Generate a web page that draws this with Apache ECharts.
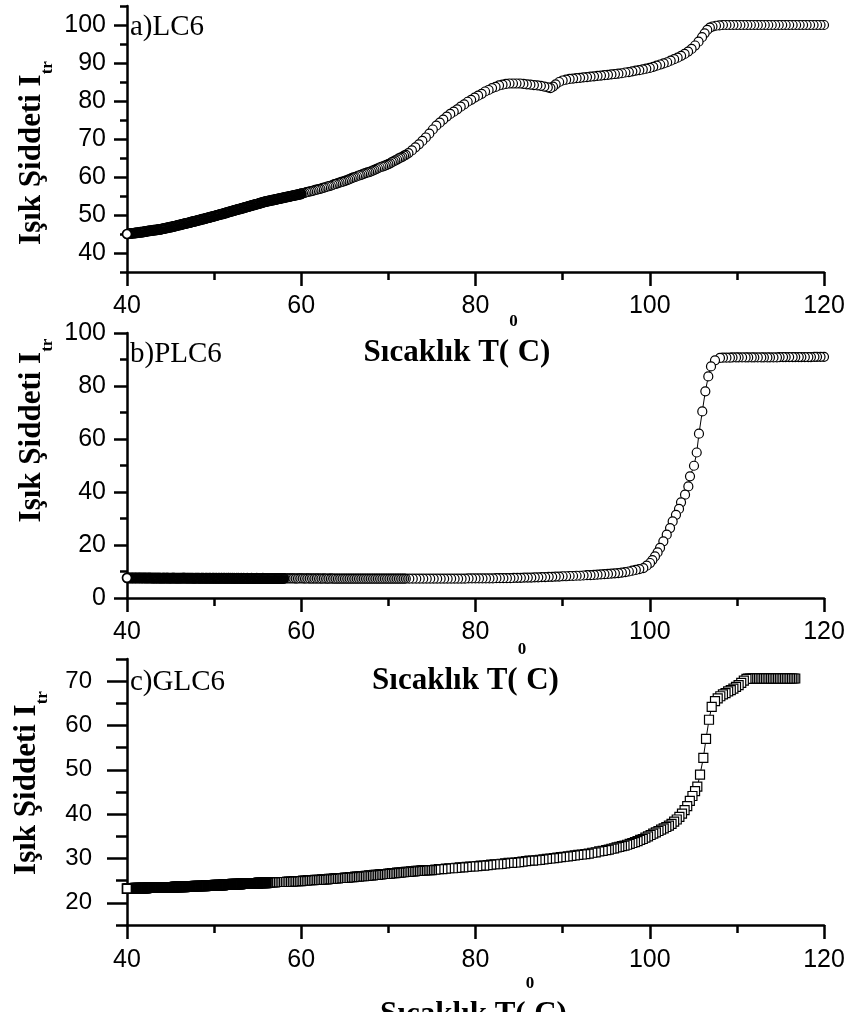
<!DOCTYPE html>
<html>
<head>
<meta charset="utf-8">
<title>Işık Şiddeti – Sıcaklık</title>
<script src="https://cdn.jsdelivr.net/npm/echarts@6/dist/echarts.min.js"></script>
<style>
  html, body { margin: 0; padding: 0; background: #fff; }
  #chart { width: 851px; height: 1012px; }
</style>
</head>
<body>
<div id="chart"></div>
<script>
// ---- Data: [temperature (°C), transmitted light intensity] ----
const lc6 = [
  [40,45.0],[40.1,45.0],[40.2,45.1],[40.3,45.1],[40.4,45.1],[40.5,45.2],[40.6,45.2],[40.7,45.2],[40.8,45.2],[40.9,45.3],
  [41,45.3],[41.1,45.3],[41.2,45.4],[41.3,45.4],[41.4,45.4],[41.5,45.5],[41.6,45.5],[41.7,45.5],[41.8,45.5],[41.9,45.6],
  [42,45.6],[42.1,45.6],[42.2,45.7],[42.3,45.7],[42.4,45.8],[42.5,45.8],[42.6,45.8],[42.7,45.9],[42.8,45.9],[42.9,45.9],
  [43,46.0],[43.1,46.0],[43.2,46.0],[43.3,46.1],[43.4,46.1],[43.5,46.1],[43.6,46.2],[43.7,46.2],[43.8,46.2],[43.9,46.3],
  [44,46.3],[44.1,46.4],[44.2,46.4],[44.3,46.5],[44.4,46.5],[44.5,46.6],[44.6,46.6],[44.7,46.7],[44.8,46.7],[44.9,46.8],
  [45,46.8],[45.1,46.9],[45.2,46.9],[45.3,47.0],[45.4,47.0],[45.5,47.1],[45.6,47.1],[45.7,47.2],[45.8,47.3],[45.9,47.3],
  [46,47.4],[46.1,47.4],[46.2,47.5],[46.3,47.5],[46.4,47.6],[46.5,47.7],[46.6,47.7],[46.7,47.8],[46.8,47.8],[46.9,47.9],
  [47,47.9],[47.1,48.0],[47.2,48.0],[47.3,48.1],[47.4,48.2],[47.5,48.2],[47.6,48.3],[47.7,48.3],[47.8,48.4],[47.9,48.4],
  [48,48.5],[48.1,48.6],[48.2,48.6],[48.3,48.7],[48.4,48.7],[48.5,48.8],[48.6,48.9],[48.7,48.9],[48.8,49.0],[48.9,49.0],
  [49,49.1],[49.1,49.2],[49.2,49.2],[49.3,49.3],[49.4,49.3],[49.5,49.4],[49.6,49.5],[49.7,49.5],[49.8,49.6],[49.9,49.6],
  [50,49.7],[50.1,49.8],[50.2,49.8],[50.3,49.9],[50.4,50.0],[50.5,50.0],[50.6,50.1],[50.7,50.2],[50.8,50.2],[50.9,50.3],
  [51,50.3],[51.1,50.4],[51.2,50.5],[51.3,50.5],[51.4,50.6],[51.5,50.7],[51.6,50.7],[51.7,50.8],[51.8,50.9],[51.9,50.9],
  [52,51.0],[52.1,51.1],[52.2,51.1],[52.3,51.2],[52.4,51.3],[52.5,51.3],[52.6,51.4],[52.7,51.5],[52.8,51.5],[52.9,51.6],
  [53,51.6],[53.1,51.7],[53.2,51.8],[53.3,51.8],[53.4,51.9],[53.5,52.0],[53.6,52.0],[53.7,52.1],[53.8,52.2],[53.9,52.2],
  [54,52.3],[54.1,52.4],[54.2,52.4],[54.3,52.5],[54.4,52.6],[54.5,52.6],[54.6,52.7],[54.7,52.8],[54.8,52.8],[54.9,52.9],
  [55,52.9],[55.1,53.0],[55.2,53.1],[55.3,53.1],[55.4,53.2],[55.5,53.3],[55.6,53.3],[55.7,53.4],[55.8,53.5],[55.9,53.5],
  [56,53.6],[56.1,53.6],[56.2,53.7],[56.3,53.7],[56.4,53.8],[56.5,53.8],[56.6,53.9],[56.7,53.9],[56.8,54.0],[56.9,54.0],
  [57,54.1],[57.1,54.1],[57.2,54.2],[57.3,54.2],[57.4,54.3],[57.5,54.3],[57.6,54.4],[57.7,54.4],[57.8,54.5],[57.9,54.5],
  [58,54.6],[58.1,54.6],[58.2,54.7],[58.3,54.7],[58.4,54.8],[58.5,54.8],[58.6,54.9],[58.7,54.9],[58.8,55.0],[58.9,55.0],
  [59,55.1],[59.1,55.1],[59.2,55.2],[59.3,55.2],[59.4,55.3],[59.5,55.3],[59.6,55.4],[59.7,55.4],[59.8,55.5],[59.9,55.5],
  [60,55.6],[60.2,55.7],[60.4,55.8],[60.6,56.0],[60.8,56.1],[61,56.2],[61.2,56.3],[61.4,56.4],[61.6,56.6],[61.8,56.7],
  [62,56.8],[62.2,56.9],[62.4,57.1],[62.6,57.2],[62.8,57.3],[63,57.5],[63.2,57.6],[63.4,57.7],[63.6,57.9],[63.8,58.1],
  [64,58.2],[64.2,58.4],[64.4,58.5],[64.6,58.7],[64.8,58.8],[65,59.0],[65.2,59.1],[65.4,59.3],[65.6,59.5],[65.8,59.7],
  [66,59.9],[66.2,60.0],[66.4,60.2],[66.6,60.4],[66.8,60.5],[67,60.7],[67.2,60.9],[67.4,61.0],[67.6,61.2],[67.8,61.3],
  [68,61.5],[68.2,61.7],[68.4,61.9],[68.6,62.1],[68.8,62.3],[69,62.5],[69.2,62.7],[69.4,62.8],[69.6,63.0],[69.8,63.2],
  [70,63.4],[70.2,63.6],[70.4,63.9],[70.6,64.1],[70.8,64.4],[71,64.6],[71.2,64.9],[71.4,65.1],[71.6,65.3],[71.8,65.6],
  [72,65.8],[72.3,66.3],[72.7,67.0],[73.1,67.8],[73.5,68.6],[73.9,69.5],[74.3,70.4],[74.7,71.4],[75.1,72.5],[75.5,73.5],
  [75.9,74.3],[76.3,75.1],[76.7,75.9],[77.1,76.6],[77.5,77.2],[77.9,77.8],[78.3,78.5],[78.7,79.1],[79.1,79.8],[79.5,80.3],
  [79.9,80.9],[80.3,81.4],[80.7,81.9],[81.1,82.5],[81.5,82.9],[81.9,83.4],[82.3,83.7],[82.7,84.1],[83.1,84.3],[83.5,84.5],
  [83.9,84.6],[84.3,84.6],[84.7,84.6],[85.1,84.6],[85.5,84.5],[85.9,84.4],[86.3,84.3],[86.7,84.2],[87.1,84.1],[87.5,84.0],
  [87.9,83.8],[88.3,83.6],[88.6,83.4],[88.9,83.8],[89.2,84.4],[89.6,85.0],[90,85.4],[90.4,85.6],[90.8,85.8],[91.2,85.9],
  [91.6,86.0],[92,86.1],[92.4,86.2],[92.8,86.3],[93.2,86.4],[93.6,86.5],[94,86.6],[94.4,86.7],[94.8,86.8],[95.2,86.9],
  [95.6,87.0],[96,87.1],[96.4,87.2],[96.8,87.3],[97.2,87.5],[97.6,87.6],[98,87.8],[98.4,88.0],[98.8,88.1],[99.2,88.3],
  [99.6,88.5],[100,88.7],[100.4,89.0],[100.8,89.3],[101.2,89.6],[101.6,89.9],[102,90.2],[102.4,90.6],[102.8,91.0],[103.2,91.4],
  [103.6,91.9],[104,92.4],[104.4,93.0],[104.8,93.7],[105.2,94.6],[105.6,95.6],[106,96.8],[106.3,97.8],[106.6,98.7],[106.9,99.3],
  [107.2,99.6],[107.6,99.8],[108,99.9],[108.4,100.0],[108.8,100.0],[109.2,100.0],[109.6,100.0],[110,100.0],[110.4,100.0],[110.8,100.0],
  [111.2,100.0],[111.6,100.0],[112,100.0],[112.4,100.0],[112.8,100.0],[113.2,100.0],[113.6,100.0],[114,100.0],[114.4,100.0],[114.8,100.0],
  [115.2,100.0],[115.6,100.0],[116,100.0],[116.4,100.0],[116.8,100.0],[117.2,100.0],[117.6,100.0],[118,100.0],[118.4,100.0],[118.8,100.0],
  [119.2,100.0],[119.6,100.0],[120,100.0]
];

const plc6 = [
  [40,7.6],[40.1,7.6],[40.2,7.6],[40.3,7.6],[40.4,7.5],[40.5,7.6],[40.6,7.6],[40.7,7.6],[40.8,7.5],[40.9,7.6],
  [41,7.6],[41.1,7.6],[41.2,7.5],[41.3,7.6],[41.4,7.6],[41.5,7.6],[41.6,7.5],[41.7,7.6],[41.8,7.6],[41.9,7.5],
  [42,7.6],[42.1,7.6],[42.2,7.5],[42.3,7.6],[42.4,7.5],[42.5,7.6],[42.6,7.6],[42.7,7.5],[42.8,7.6],[42.9,7.5],
  [43,7.5],[43.1,7.6],[43.2,7.5],[43.3,7.5],[43.4,7.6],[43.5,7.5],[43.6,7.5],[43.7,7.6],[43.8,7.5],[43.9,7.5],
  [44,7.5],[44.1,7.5],[44.2,7.6],[44.3,7.5],[44.4,7.5],[44.5,7.5],[44.6,7.6],[44.7,7.5],[44.8,7.5],[44.9,7.5],
  [45,7.5],[45.1,7.5],[45.2,7.5],[45.3,7.6],[45.4,7.5],[45.5,7.5],[45.6,7.5],[45.7,7.5],[45.8,7.5],[45.9,7.5],
  [46,7.5],[46.1,7.5],[46.2,7.5],[46.3,7.5],[46.4,7.5],[46.5,7.6],[46.6,7.5],[46.7,7.5],[46.8,7.5],[46.9,7.5],
  [47,7.5],[47.1,7.5],[47.2,7.5],[47.3,7.5],[47.4,7.5],[47.5,7.5],[47.6,7.5],[47.7,7.4],[47.8,7.5],[47.9,7.5],
  [48,7.5],[48.1,7.5],[48.2,7.5],[48.3,7.5],[48.4,7.4],[48.5,7.5],[48.6,7.5],[48.7,7.5],[48.8,7.5],[48.9,7.4],
  [49,7.5],[49.1,7.5],[49.2,7.5],[49.3,7.4],[49.4,7.5],[49.5,7.5],[49.6,7.5],[49.7,7.4],[49.8,7.5],[49.9,7.5],
  [50,7.5],[50.1,7.4],[50.2,7.5],[50.3,7.5],[50.4,7.4],[50.5,7.5],[50.6,7.5],[50.7,7.4],[50.8,7.5],[50.9,7.5],
  [51,7.4],[51.1,7.5],[51.2,7.5],[51.3,7.4],[51.4,7.5],[51.5,7.4],[51.6,7.5],[51.7,7.5],[51.8,7.4],[51.9,7.5],
  [52,7.4],[52.1,7.5],[52.2,7.4],[52.3,7.5],[52.4,7.4],[52.5,7.4],[52.6,7.5],[52.7,7.4],[52.8,7.5],[52.9,7.4],
  [53,7.4],[53.1,7.5],[53.2,7.4],[53.3,7.4],[53.4,7.5],[53.5,7.4],[53.6,7.4],[53.7,7.4],[53.8,7.5],[53.9,7.4],
  [54,7.4],[54.1,7.4],[54.2,7.4],[54.3,7.5],[54.4,7.4],[54.5,7.4],[54.6,7.4],[54.7,7.4],[54.8,7.4],[54.9,7.5],
  [55,7.4],[55.1,7.4],[55.2,7.4],[55.3,7.4],[55.4,7.4],[55.5,7.4],[55.6,7.5],[55.7,7.4],[55.8,7.4],[55.9,7.4],
  [56,7.4],[56.1,7.4],[56.2,7.4],[56.3,7.4],[56.4,7.4],[56.5,7.4],[56.6,7.4],[56.7,7.4],[56.8,7.4],[56.9,7.4],
  [57,7.4],[57.1,7.4],[57.2,7.4],[57.3,7.4],[57.4,7.3],[57.5,7.4],[57.6,7.4],[57.7,7.4],[57.8,7.4],[57.9,7.4],
  [58,7.4],[58.2,7.4],[58.4,7.4],[58.6,7.4],[58.8,7.4],[59,7.4],[59.2,7.4],[59.4,7.3],[59.6,7.4],[59.8,7.4],
  [60,7.4],[60.2,7.4],[60.4,7.3],[60.6,7.4],[60.8,7.4],[61,7.3],[61.2,7.4],[61.4,7.3],[61.6,7.4],[61.8,7.3],
  [62,7.4],[62.2,7.3],[62.4,7.3],[62.6,7.4],[62.8,7.3],[63,7.3],[63.2,7.3],[63.4,7.4],[63.6,7.3],[63.8,7.3],
  [64,7.3],[64.2,7.3],[64.4,7.3],[64.6,7.3],[64.8,7.3],[65,7.3],[65.2,7.3],[65.4,7.3],[65.6,7.3],[65.8,7.3],
  [66,7.3],[66.2,7.3],[66.4,7.3],[66.6,7.3],[66.8,7.3],[67,7.3],[67.2,7.3],[67.4,7.3],[67.6,7.3],[67.8,7.3],
  [68,7.3],[68.2,7.3],[68.4,7.3],[68.6,7.3],[68.8,7.3],[69,7.3],[69.2,7.3],[69.4,7.3],[69.6,7.3],[69.8,7.3],
  [70,7.3],[70.2,7.3],[70.4,7.3],[70.6,7.3],[70.8,7.3],[71,7.3],[71.2,7.3],[71.4,7.3],[71.6,7.3],[71.8,7.3],
  [72,7.3],[72.4,7.3],[72.8,7.3],[73.2,7.3],[73.6,7.3],[74,7.3],[74.4,7.3],[74.8,7.3],[75.2,7.3],[75.6,7.3],
  [76,7.3],[76.4,7.3],[76.8,7.3],[77.2,7.3],[77.6,7.3],[78,7.3],[78.4,7.3],[78.8,7.3],[79.2,7.4],[79.6,7.4],
  [80,7.4],[80.4,7.4],[80.8,7.4],[81.2,7.4],[81.6,7.4],[82,7.4],[82.4,7.5],[82.8,7.5],[83.2,7.5],[83.6,7.5],
  [84,7.5],[84.4,7.6],[84.8,7.6],[85.2,7.6],[85.6,7.7],[86,7.7],[86.4,7.7],[86.8,7.8],[87.2,7.8],[87.6,7.9],
  [88,7.9],[88.4,8.0],[88.8,8.0],[89.2,8.1],[89.6,8.1],[90,8.2],[90.4,8.2],[90.8,8.3],[91.2,8.3],[91.6,8.4],
  [92,8.4],[92.4,8.5],[92.8,8.6],[93.2,8.6],[93.6,8.7],[94,8.8],[94.4,8.9],[94.8,9.0],[95.2,9.1],[95.6,9.2],
  [96,9.3],[96.4,9.4],[96.8,9.6],[97.2,9.8],[97.6,10.0],[98,10.3],[98.4,10.6],[98.8,10.9],[99.26,11.3],[99.65,12.2],
  [100.03,13.2],[100.3,14.3],[100.6,15.7],[100.9,17.2],[101.18,18.9],[101.56,21.4],[101.95,23.9],[102.33,26.4],[102.63,28.9],[103.01,31.4],
  [103.36,33.6],[103.59,36.1],[104.05,39.0],[104.43,42.1],[104.62,45.9],[105.08,49.9],[105.39,54.9],[105.65,62.0],[106.03,70.4],[106.38,78.0],
  [106.72,83.6],[107.03,87.4],[107.49,89.7],[108.06,90.6],[108.4,90.7],[108.8,90.7],[109.2,90.7],[109.5,90.8],[109.9,90.8],[110.2,90.8],
  [110.6,90.8],[111,90.8],[111.3,90.8],[111.7,90.8],[112,90.8],[112.4,90.8],[112.8,90.8],[113.1,90.8],[113.5,90.8],[113.8,90.8],
  [114.2,90.8],[114.6,90.8],[114.9,90.9],[115.3,90.9],[115.6,90.9],[116,90.9],[116.4,90.9],[116.7,90.9],[117.1,90.9],[117.4,90.9],
  [117.8,90.9],[118.2,90.9],[118.5,90.9],[118.9,91.0],[119.2,91.0],[119.6,91.0],[120,91.0]
];

const glc6 = [
  [40,23.2],[40.1,23.2],[40.2,23.2],[40.3,23.2],[40.4,23.2],[40.5,23.2],[40.6,23.2],[40.7,23.2],[40.8,23.2],[40.9,23.3],
  [41,23.3],[41.1,23.3],[41.2,23.3],[41.3,23.3],[41.4,23.3],[41.5,23.3],[41.6,23.3],[41.7,23.3],[41.8,23.3],[41.9,23.3],
  [42,23.3],[42.1,23.3],[42.2,23.3],[42.3,23.4],[42.4,23.4],[42.5,23.4],[42.6,23.4],[42.7,23.4],[42.8,23.4],[42.9,23.4],
  [43,23.4],[43.1,23.4],[43.2,23.4],[43.3,23.4],[43.4,23.4],[43.5,23.4],[43.6,23.4],[43.7,23.4],[43.8,23.5],[43.9,23.5],
  [44,23.5],[44.1,23.5],[44.2,23.5],[44.3,23.5],[44.4,23.5],[44.5,23.5],[44.6,23.5],[44.7,23.5],[44.8,23.5],[44.9,23.5],
  [45,23.5],[45.1,23.5],[45.2,23.5],[45.3,23.5],[45.4,23.5],[45.5,23.6],[45.6,23.6],[45.7,23.6],[45.8,23.6],[45.9,23.6],
  [46,23.6],[46.1,23.6],[46.2,23.6],[46.3,23.6],[46.4,23.6],[46.5,23.6],[46.6,23.6],[46.7,23.7],[46.8,23.7],[46.9,23.7],
  [47,23.7],[47.1,23.7],[47.2,23.7],[47.3,23.7],[47.4,23.7],[47.5,23.7],[47.6,23.7],[47.7,23.7],[47.8,23.8],[47.9,23.8],
  [48,23.8],[48.1,23.8],[48.2,23.8],[48.3,23.8],[48.4,23.8],[48.5,23.8],[48.6,23.8],[48.7,23.8],[48.8,23.8],[48.9,23.8],
  [49,23.8],[49.1,23.9],[49.2,23.9],[49.3,23.9],[49.4,23.9],[49.5,23.9],[49.6,23.9],[49.7,23.9],[49.8,23.9],[49.9,23.9],
  [50,23.9],[50.1,24.0],[50.2,24.0],[50.3,24.0],[50.4,24.0],[50.5,24.0],[50.6,24.0],[50.7,24.0],[50.8,24.0],[50.9,24.0],
  [51,24.0],[51.1,24.1],[51.2,24.1],[51.3,24.1],[51.4,24.1],[51.5,24.1],[51.6,24.1],[51.7,24.1],[51.8,24.1],[51.9,24.1],
  [52,24.1],[52.1,24.2],[52.2,24.2],[52.3,24.2],[52.4,24.2],[52.5,24.2],[52.6,24.2],[52.7,24.2],[52.8,24.2],[52.9,24.2],
  [53,24.2],[53.1,24.3],[53.2,24.3],[53.3,24.3],[53.4,24.3],[53.5,24.3],[53.6,24.3],[53.7,24.3],[53.8,24.3],[53.9,24.3],
  [54,24.3],[54.1,24.4],[54.2,24.4],[54.3,24.4],[54.4,24.4],[54.5,24.4],[54.6,24.4],[54.7,24.4],[54.8,24.4],[54.9,24.4],
  [55,24.4],[55.1,24.5],[55.2,24.5],[55.3,24.5],[55.4,24.5],[55.5,24.5],[55.6,24.5],[55.7,24.5],[55.8,24.5],[55.9,24.5],
  [56,24.5],[56.2,24.5],[56.4,24.6],[56.6,24.6],[56.8,24.6],[57,24.6],[57.2,24.7],[57.4,24.7],[57.6,24.7],[57.8,24.7],
  [58,24.7],[58.2,24.7],[58.4,24.8],[58.6,24.8],[58.8,24.8],[59,24.8],[59.2,24.9],[59.4,24.9],[59.6,24.9],[59.8,24.9],
  [60,24.9],[60.2,25.0],[60.4,25.0],[60.6,25.0],[60.8,25.1],[61,25.1],[61.2,25.1],[61.4,25.1],[61.6,25.2],[61.8,25.2],
  [62,25.2],[62.2,25.2],[62.4,25.3],[62.6,25.3],[62.8,25.3],[63,25.3],[63.2,25.4],[63.4,25.4],[63.6,25.4],[63.8,25.5],
  [64,25.5],[64.2,25.5],[64.4,25.6],[64.6,25.6],[64.8,25.6],[65,25.7],[65.2,25.7],[65.4,25.7],[65.6,25.8],[65.8,25.8],
  [66,25.8],[66.2,25.9],[66.4,25.9],[66.6,25.9],[66.8,26.0],[67,26.0],[67.2,26.0],[67.4,26.1],[67.6,26.1],[67.8,26.2],
  [68,26.2],[68.2,26.2],[68.4,26.3],[68.6,26.3],[68.8,26.3],[69,26.4],[69.2,26.4],[69.4,26.5],[69.6,26.5],[69.8,26.5],
  [70,26.6],[70.2,26.6],[70.4,26.7],[70.6,26.7],[70.8,26.7],[71,26.8],[71.2,26.8],[71.4,26.8],[71.6,26.9],[71.8,26.9],
  [72,27.0],[72.2,27.0],[72.4,27.0],[72.6,27.1],[72.8,27.1],[73,27.1],[73.2,27.2],[73.4,27.2],[73.6,27.2],[73.8,27.3],
  [74,27.3],[74.2,27.3],[74.4,27.4],[74.6,27.4],[74.8,27.4],[75,27.4],[75.4,27.5],[75.8,27.6],[76.2,27.6],[76.6,27.7],
  [77,27.8],[77.4,27.8],[77.8,27.9],[78.2,28.0],[78.6,28.0],[79,28.1],[79.4,28.2],[79.8,28.2],[80.2,28.3],[80.6,28.4],
  [81,28.4],[81.4,28.5],[81.8,28.6],[82.2,28.7],[82.6,28.7],[83,28.8],[83.4,28.9],[83.8,29.0],[84.2,29.0],[84.6,29.1],
  [85,29.2],[85.4,29.3],[85.8,29.4],[86.2,29.5],[86.6,29.5],[87,29.6],[87.4,29.7],[87.8,29.8],[88.2,29.9],[88.6,30.0],
  [89,30.1],[89.4,30.2],[89.8,30.3],[90.2,30.4],[90.6,30.5],[91,30.6],[91.4,30.7],[91.8,30.8],[92.2,30.9],[92.6,31.0],
  [93,31.1],[93.4,31.3],[93.8,31.4],[94.2,31.6],[94.6,31.7],[95,31.9],[95.3,32.0],[95.6,32.2],[95.9,32.3],[96.2,32.5],
  [96.5,32.6],[96.8,32.8],[97.1,32.9],[97.4,33.1],[97.7,33.3],[98,33.5],[98.3,33.7],[98.6,33.9],[98.9,34.2],[99.2,34.4],
  [99.5,34.7],[99.8,35.0],[100.1,35.3],[100.4,35.6],[100.7,35.9],[101,36.2],[101.3,36.5],[101.6,36.8],[101.9,37.1],[102.2,37.4],
  [102.5,37.8],[102.8,38.3],[103.1,38.8],[103.4,39.4],[103.7,40.1],[104,40.9],[104.3,41.8],[104.6,43.0],[104.9,44.1],[105.2,45.2],
  [105.46,46.2],[105.77,48.9],[106.15,52.7],[106.46,57.0],[106.8,61.3],[107.11,64.2],[107.49,65.5],[107.8,66.1],[108.1,66.6],[108.4,67.0],
  [108.7,67.3],[109,67.7],[109.3,68.0],[109.6,68.3],[109.9,68.7],[110.2,69.1],[110.5,69.6],[110.8,70.1],[111.1,70.5],[111.3,70.6],
  [111.5,70.6],[111.7,70.6],[111.9,70.6],[112.1,70.6],[112.3,70.6],[112.5,70.6],[112.7,70.6],[112.9,70.6],[113.1,70.6],[113.3,70.6],
  [113.5,70.6],[113.7,70.6],[113.9,70.6],[114.1,70.6],[114.3,70.6],[114.5,70.6],[114.7,70.6],[114.9,70.6],[115.1,70.6],[115.3,70.6],
  [115.5,70.6],[115.7,70.6],[115.9,70.6],[116.1,70.6],[116.3,70.6],[116.5,70.6],[116.7,70.6]
];

// Temperatures below which the readings were logged most densely
const denseUpTo = { lc6: 60, plc6: 58, glc6: 56 };

// ---- Tick values ----
const tempRange = [40, 120];
const lc6MajorTicks = [40, 50, 60, 70, 80, 90, 100];
const lc6MinorTicks = [35, 45, 55, 65, 75, 85, 95, 105];
const plc6Range = [0, 100];
const glc6MajorTicks = [20, 30, 40, 50, 60, 70];
const glc6MinorTicks = [15, 25, 35, 45, 55, 65, 75];

// ---- Texts ----
const panelLabels = ['a)LC6', 'b)PLC6', 'c)GLC6'];
const xTitleMain = ['Sıcaklık T(', 'C)'];
const xTitleSup = '0';
const yTitle = '{m|Işık Şiddeti I}{sub|tr}';

const SANS = '"Liberation Sans", Arial, sans-serif';
const SERIF = '"Liberation Serif", "Times New Roman", serif';
const TITLE_FONT = 'bold 31px "Liberation Serif", "Times New Roman", serif';
const SUP_FONT = 'bold 17px "Liberation Serif", "Times New Roman", serif';
const INK = '#000';
const AXIS_W = 2.5;

const chart = echarts.init(document.getElementById('chart'), null, { renderer: 'canvas' });

const grids = [
  { left: 127, width: 697, top: 6, height: 266, outerBoundsMode: 'none', containLabel: false },
  { left: 127, width: 697, top: 333, height: 265, outerBoundsMode: 'none', containLabel: false },
  { left: 127, width: 697, top: 659, height: 266, outerBoundsMode: 'none', containLabel: false }
];

function yTitleStyle(pad) {
  return {
    padding: pad,
    rich: {
      m: { fontFamily: SERIF, fontWeight: 'bold', fontSize: 31, lineHeight: 31, verticalAlign: 'top', color: INK },
      sub: { fontFamily: SERIF, fontWeight: 'bold', fontSize: 17, lineHeight: 17, padding: [23, 0, 0, 0], verticalAlign: 'top', color: INK }
    }
  };
}

function xAxisFor(i, labelMargin) {
  return {
    gridIndex: i, type: 'value', position: 'bottom', min: tempRange[0], max: tempRange[1], interval: 20,
    axisLine: { show: true, onZero: false, lineStyle: { color: INK, width: AXIS_W } },
    axisTick: { show: true, inside: false, length: 14, lineStyle: { color: INK, width: AXIS_W } },
    minorTick: { show: true, splitNumber: 2, length: 8, lineStyle: { color: INK, width: AXIS_W } },
    splitLine: { show: false }, minorSplitLine: { show: false },
    axisLabel: { fontFamily: SANS, fontSize: 25, color: INK, margin: labelMargin }
  };
}

function yName(nameGap, pad) {
  return {
    name: yTitle, nameLocation: 'middle', nameRotate: 90, nameGap: nameGap, nameMoveOverlap: false,
    nameTextStyle: yTitleStyle(pad)
  };
}

const yAxes = [
  // panel a: main axis with labelled ticks
  Object.assign({
    gridIndex: 0, type: 'value', position: 'left', min: 35, max: 105,
    axisLine: { show: true, onZero: false, lineStyle: { color: INK, width: AXIS_W } },
    axisTick: { show: true, length: 13, customValues: lc6MajorTicks, lineStyle: { color: INK, width: AXIS_W } },
    axisLabel: { customValues: lc6MajorTicks, fontFamily: SANS, fontSize: 25, color: INK, margin: 21 },
    splitLine: { show: false }
  }, yName(79.5, [0, 28, 0, 0])),
  // panel a: minor ticks
  {
    gridIndex: 0, type: 'value', position: 'left', offset: 0, min: 35, max: 105,
    axisLine: { show: false },
    axisTick: { show: true, length: 7, customValues: lc6MinorTicks, lineStyle: { color: INK, width: AXIS_W } },
    axisLabel: { show: false }, splitLine: { show: false }
  },
  // panel b
  Object.assign({
    gridIndex: 1, type: 'value', position: 'left', min: plc6Range[0], max: plc6Range[1], interval: 20,
    axisLine: { show: true, onZero: false, lineStyle: { color: INK, width: AXIS_W } },
    axisTick: { show: true, length: 13, lineStyle: { color: INK, width: AXIS_W } },
    minorTick: { show: true, splitNumber: 2, length: 7, lineStyle: { color: INK, width: AXIS_W } },
    axisLabel: { fontFamily: SANS, fontSize: 25, color: INK, margin: 21 },
    splitLine: { show: false }, minorSplitLine: { show: false }
  }, yName(79.5, [0, 0, 0, 70])),
  // panel c: main axis
  Object.assign({
    gridIndex: 2, type: 'value', position: 'left', min: 15, max: 75,
    axisLine: { show: true, onZero: false, lineStyle: { color: INK, width: AXIS_W } },
    axisTick: { show: true, length: 20, customValues: glc6MajorTicks, lineStyle: { color: INK, width: AXIS_W } },
    axisLabel: { customValues: glc6MajorTicks, fontFamily: SANS, fontSize: 24, color: INK, margin: 35 },
    splitLine: { show: false }
  }, yName(84.5, [0, 0, 0, 18])),
  // panel c: minor ticks
  {
    gridIndex: 2, type: 'value', position: 'left', offset: 0, min: 15, max: 75,
    axisLine: { show: false },
    axisTick: { show: true, length: 11, customValues: glc6MinorTicks, lineStyle: { color: INK, width: AXIS_W } },
    axisLabel: { show: false }, splitLine: { show: false }
  }
];

// One curve is drawn as two line series: the sparse high-temperature run first,
// then the densely sampled low-temperature run on top. Points are drawn from the
// hot end towards 40 °C so the 40 °C marker ends up uppermost.
function curveSeries(data, limit, xi, yi, symbol) {
  const k = data.findIndex(p => p[0] >= limit);
  const base = {
    type: 'line', xAxisIndex: xi, yAxisIndex: yi,
    symbol: symbol, symbolSize: 9, showSymbol: true, showAllSymbol: true,
    clip: false, silent: true, animation: false,
    lineStyle: { color: INK, width: 1 },
    emphasis: { disabled: true }
  };
  return [
    Object.assign({}, base, {
      data: data.slice(k).reverse(),
      itemStyle: { color: '#fff', borderColor: INK, borderWidth: 1.2 }
    }),
    Object.assign({}, base, {
      data: data.slice(0, k + 1).reverse(),
      itemStyle: { color: '#fff', borderColor: INK, borderWidth: 1.7 }
    })
  ];
}

// Temperature-axis title: plain text pieces laid out on one baseline, with the
// degree "0" raised above the capitals. Measured with the same canvas font so
// the pieces butt up against each other.
const measureCtx = document.createElement('canvas').getContext('2d');
function textWidth(str, font) { measureCtx.font = font; return measureCtx.measureText(str).width; }

// [centre x, baseline y] of each panel's temperature title
const xTitleAnchors = [[457, 337], [465.5, 665], [473.5, 999]];

function xTitleElements(cx, baseY) {
  const w0 = textWidth(xTitleMain[0], TITLE_FONT);
  const ws = textWidth(xTitleSup, SUP_FONT);
  const w1 = textWidth(xTitleMain[1], TITLE_FONT);
  const left = cx - (w0 + ws + w1) / 2;
  const piece = (x, y, text, font) => ({
    type: 'text', x: x, y: y, silent: true, z: -1,
    style: { text: text, font: font, fill: INK, align: 'left', verticalAlign: 'alphabetic', textAlign: 'left', textBaseline: 'alphabetic' }
  });
  return [
    piece(left, baseY, xTitleMain[0], TITLE_FONT),
    piece(left + w0, baseY - 24, xTitleSup, SUP_FONT),
    piece(left + w0 + ws, baseY, xTitleMain[1], TITLE_FONT)
  ];
}

const labelTops = [13, 340, 668];
const texts = panelLabels.map((t, i) => ({
  type: 'text', left: 130, top: labelTops[i], silent: true,
  style: { text: t, font: '29px "Liberation Serif", "Times New Roman", serif', fill: INK }
})).concat(...xTitleAnchors.map(a => xTitleElements(a[0], a[1])));

chart.setOption({
  backgroundColor: '#fff',
  animation: false,
  grid: grids,
  xAxis: [xAxisFor(0, 22), xAxisFor(1, 22), xAxisFor(2, 23)],
  yAxis: yAxes,
  series: [].concat(
    curveSeries(lc6, denseUpTo.lc6, 0, 0, 'circle'),
    curveSeries(plc6, denseUpTo.plc6, 1, 2, 'circle'),
    curveSeries(glc6, denseUpTo.glc6, 2, 3, 'rect')
  ),
  graphic: texts
});
</script>
</body>
</html>
